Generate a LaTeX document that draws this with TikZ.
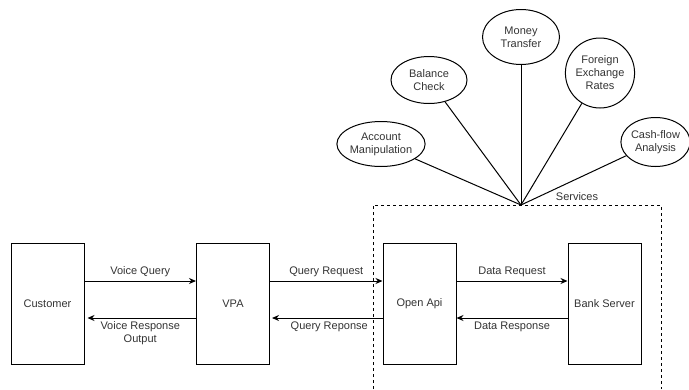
\documentclass[tikz,border=0pt]{standalone}
\usepackage{fontspec}
\setmainfont{Liberation Sans}
\usetikzlibrary{arrows.meta,shapes.geometric}

\tikzset{
  caixa/.style={draw, line width=1pt, minimum width=73pt, minimum height=121pt, inner sep=0pt, text=black!80},
  servico/.style={draw, ellipse, line width=1pt, inner sep=0pt, align=center, text=black!80},
  fluxo/.style={line width=1pt, -{Stealth[length=7pt,width=6pt]}},
  rotulo/.style={align=center, text=black!80}
}

\begin{document}
\begin{tikzpicture}[x=1pt, y=-1pt, font=\fontsize{11}{13}\selectfont]
\useasboundingbox (0,0) rectangle (689,389);

% Caixas principais
\node[caixa] (cliente) at (47.5,303.5) {Customer};
\node[caixa] (vpa) at (233,303.5) {VPA};
\node[caixa] (api) at (419.5,303.5) {Open Api};
\node[caixa] (banco) at (604.5,303.5) {Bank Server};

% Linhas das setas
\coordinate (ida) at (0,281);
\coordinate (volta) at (0,318);

% Setas de pedido
\draw[fluxo] (cliente.east |- ida) -- node[rotulo, above] {Voice Query} (vpa.west |- ida);
\draw[fluxo] (vpa.east |- ida) -- node[rotulo, above] {Query Request} (api.west |- ida);
\draw[fluxo] (api.east |- ida) -- node[rotulo, above] {Data Request} (banco.west |- ida);

% Setas de resposta
\draw[fluxo, shorten >=3pt] (vpa.west |- volta) -- node[rotulo, below] {Voice Response\\Output} (cliente.east |- volta);
\draw[fluxo, shorten >=2pt] (api.west |- volta) -- node[rotulo, below, xshift=3pt] {Query Reponse} (vpa.east |- volta);
\draw[fluxo] (banco.west |- volta) -- node[rotulo, below] {Data Response} (api.east |- volta);

% Caixa tracejada dos servicos
\draw[line width=1pt, dash pattern=on 3pt off 3pt] (373,389) -- (373,205) -- (661,205) -- (661,389);
\coordinate (centro) at (521,205);
\node[rotulo] (servicos) at (577,197) {Services};

% Servicos
\node[servico, minimum width=73pt, minimum height=45pt] (conta) at (381,144) {Account\\Manipulation};
\node[servico, minimum width=76pt, minimum height=47pt] (saldo) at (429,80) {Balance\\Check};
\node[servico, minimum width=77pt, minimum height=55pt] (transf) at (521,37) {Money\\Transfer};
\node[servico, minimum width=63pt, minimum height=70pt] (cambio) at (600,73) {Foreign\\Exchange\\Rates};
\node[servico, minimum width=65pt, minimum height=49pt] (caixaflux) at (655.5,142) {Cash-flow\\Analysis};

\foreach \s in {conta, saldo, transf, cambio, caixaflux}
  \draw[line width=1pt] (centro) -- (\s);

\end{tikzpicture}
\end{document}
